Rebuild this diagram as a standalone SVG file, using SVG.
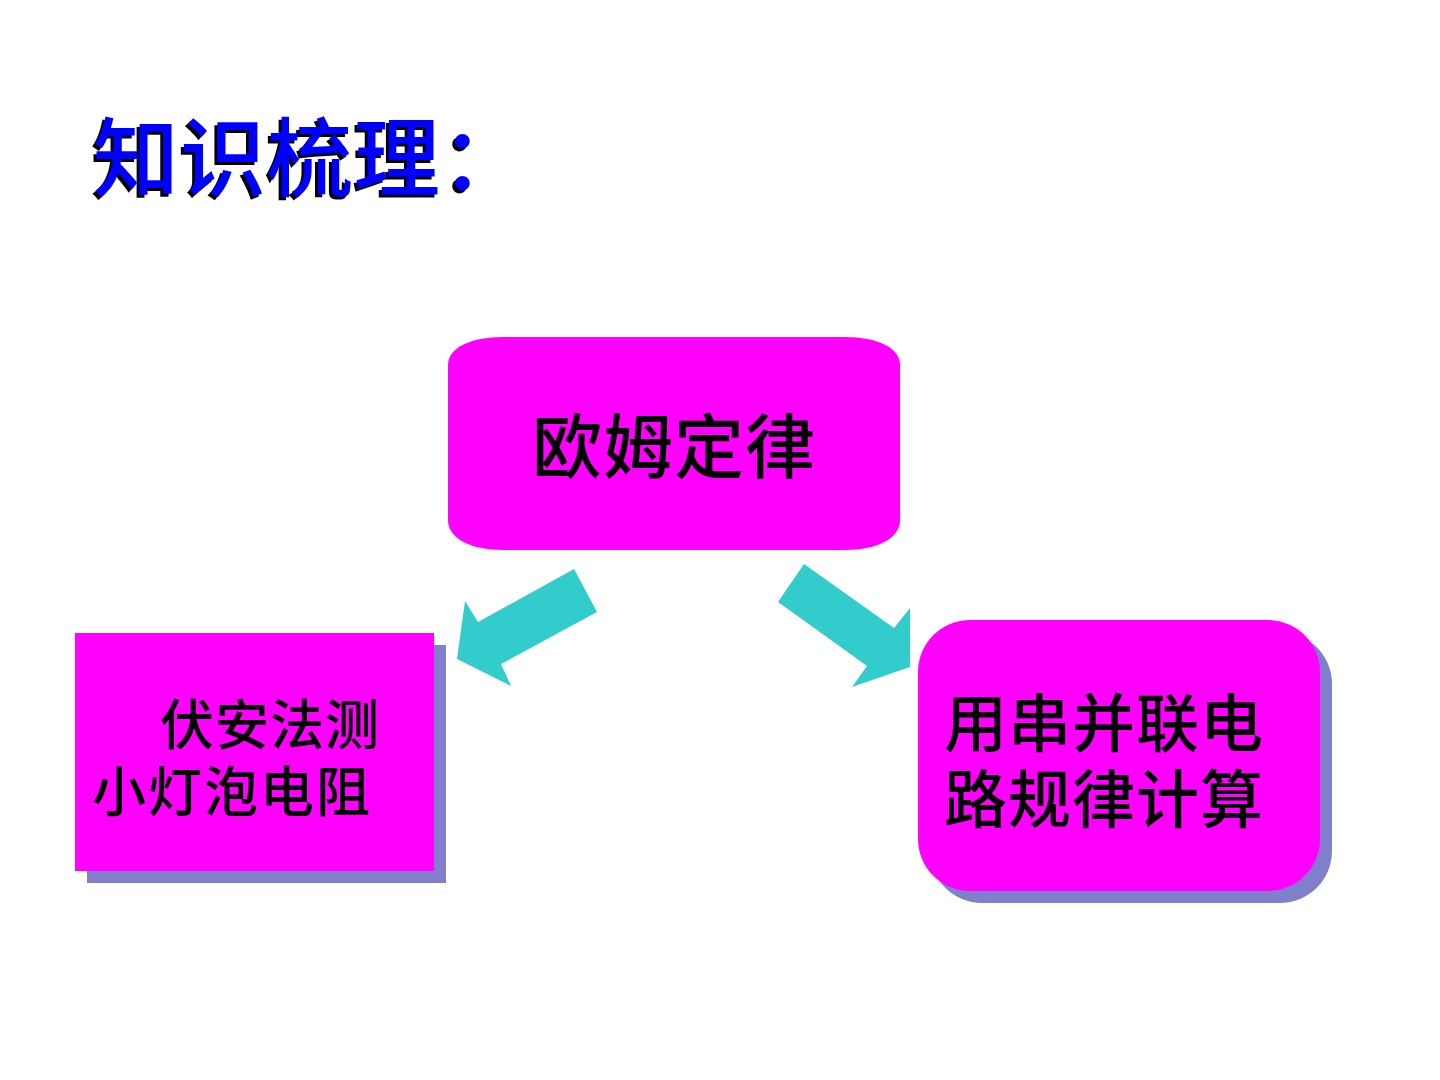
<svg xmlns="http://www.w3.org/2000/svg" width="1440" height="1080" viewBox="0 0 1440 1080">
<style>
.cjk{font-family:"Noto Sans CJK SC","Noto Sans CJK TC",sans-serif;}
.box{fill:#FF00FF;}
.shadow{fill:#7F7FCC;}
.lbl{fill:#000000;font-weight:500;}
.arrow{fill:#33CCCC;}
</style>
<defs>
<filter id="tshadow" x="-5%" y="-10%" width="110%" height="120%">
<feOffset in="SourceAlpha" dx="-3" dy="3" result="off"/>
<feFlood flood-color="#000000"/>
<feComposite in2="off" operator="in" result="sh"/>
<feMerge><feMergeNode in="sh"/><feMergeNode in="SourceGraphic"/></feMerge>
</filter>
</defs>
<rect width="1440" height="1080" fill="#FFFFFF"/>
<g id="title">
<text class="cjk" x="93" y="190" font-size="86" fill="#0000FF" font-weight="500" letter-spacing="1" filter="url(#tshadow)">知识梳理：</text>
</g>
<g id="node-ohm">
<path class="box" d="M503,337 H845 C878,337 900,348 900,365 V520 C900,538 878,550 845,550 H503 C470,550 448,538 448,520 V365 C448,348 470,337 503,337 Z"/>
<text class="cjk lbl" x="674" y="473" font-size="70" text-anchor="middle" letter-spacing="1">欧姆定律</text>
</g>
<g id="node-left">
<rect class="shadow" x="87" y="645" width="359" height="238"/>
<rect class="box" x="75" y="633" width="359" height="238"/>
<text class="cjk lbl" font-size="54"><tspan x="160" y="745" letter-spacing="1">伏安法测</tspan><tspan x="92" y="812" letter-spacing="2">小灯泡电阻</tspan></text>
</g>
<g id="node-right">
<rect class="shadow" x="930" y="632" width="402" height="271" rx="52" ry="52"/>
<rect class="box" x="918" y="620" width="402" height="271" rx="52" ry="52"/>
<text class="cjk lbl" font-size="63" letter-spacing="1"><tspan x="944" y="746">用串并联电</tspan><tspan x="944" y="822">路规律计算</tspan></text>
</g>
<g id="connectors">
<polygon class="arrow" points="574,569 597,612 501,664 511,686 457,659 465,601 478,622"/>
<polygon class="arrow" points="804,564 778,602 867,666 852,687 910,667 910,608 894,628"/>
</g>
</svg>
